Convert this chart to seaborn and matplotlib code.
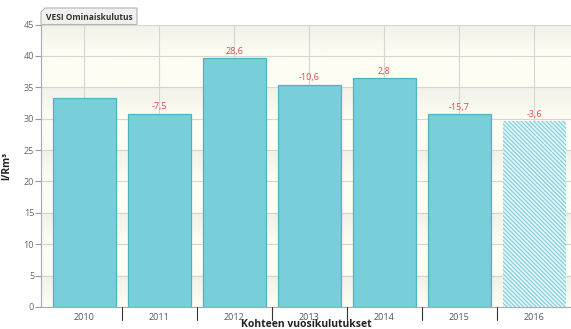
import numpy as np
import pandas as pd
import matplotlib
matplotlib.use("Agg")
import matplotlib.pyplot as plt
from matplotlib.patches import Polygon
from matplotlib.colors import LinearSegmentedColormap
import seaborn as sns

years = ["2010", "2011", "2012", "2013", "2014", "2015", "2016"]
consumption = [33.3, 30.8, 39.6, 35.4, 36.4, 30.7, 29.6]
forecast_year = "2016"
y_ticks = [0, 5, 10, 15, 20, 25, 30, 35, 40, 45]

df = pd.DataFrame({"year": years, "value": consumption})

sns.set_theme(style="white")
plt.rcParams["font.family"] = ["Open Sans", "DejaVu Sans"]
plt.rcParams["hatch.linewidth"] = 0.9

fig = plt.figure(figsize=(5.71, 3.29), dpi=100)
ax = fig.add_axes([41 / 571, 1 - 307 / 329, 531 / 571, (307 - 24.5) / 329])

bar_color = "#78ced9"
edge_color = "#4fb4c0"
sns.barplot(data=df, x="year", y="value", ax=ax, color=bar_color,
            saturation=1, width=0.84, edgecolor=edge_color, linewidth=0.9,
            zorder=3)

xlim = (-0.5 - 5.7 / 75, 6.5 + 0.5 / 75)

# banded background: every other band shades toward its top gridline
steps = 40
rows = []
for k in range(9):
    if k % 2 == 0:
        rows.append(np.linspace(0, 1, steps))
    else:
        rows.append(np.zeros(steps))
grad = np.concatenate(rows).reshape(-1, 1)
cmap = LinearSegmentedColormap.from_list("bg", ["#fdfdf3", "#f1f1e9"])
ax.imshow(grad, aspect="auto", cmap=cmap, extent=(*xlim, 0, 45),
          origin="lower", zorder=0, interpolation="bilinear")
ax.set_xlim(*xlim)
ax.set_ylim(0, 45)

# hatched forecast bar
for patch, yr in zip(ax.patches, years):
    if yr == forecast_year:
        patch.set_facecolor("#e6f6f8")
        patch.set_edgecolor("#86d1db")
        patch.set_hatch("\\\\\\\\\\\\\\\\")
        patch.set_linewidth(0)

# year-over-year change labels
for i in range(1, len(years)):
    change = (consumption[i] / consumption[i - 1] - 1) * 100
    txt = f"{change:.1f}".replace(".", ",")
    ax.text(i, consumption[i] + 0.4, txt, ha="center", va="bottom",
            fontsize=6.5, color="#e0474c", zorder=5)

# grid
for yv in y_ticks:
    ax.axhline(yv, color="#d6d6d0", linewidth=0.8, zorder=1)
for i in range(len(years)):
    ax.axvline(i, color="#d6d6d0", linewidth=0.8, zorder=1)

ax.set_yticks(y_ticks)
ax.set_yticklabels([str(v) for v in y_ticks], fontsize=6.5, color="#666666")
ax.set_xticks(range(len(years)))
ax.set_xticklabels(years, fontsize=6.5, color="#555555")
ax.tick_params(axis="y", length=4, width=0.8, color="#999999", pad=1, left=True)
ax.tick_params(axis="x", length=0, pad=4)

# separators between categories
for i in range(len(years) - 1):
    ax.plot([i + 0.5, i + 0.5], [0, -0.045], transform=ax.get_xaxis_transform(),
            color="#333333", linewidth=0.8, clip_on=False, zorder=6)

for s in ["top", "right"]:
    ax.spines[s].set_visible(False)
ax.spines["left"].set_color("#aaaaaa")
ax.spines["left"].set_linewidth(0.8)
ax.spines["bottom"].set_color("#aaaaaa")
ax.spines["bottom"].set_linewidth(0.8)

ax.set_xlabel("Kohteen vuosikulutukset", fontsize=7.5, fontweight="bold",
              color="#222222", labelpad=-1.5)
ax.set_ylabel("l/Rm³", fontsize=7.5, fontweight="bold", color="#222222",
              labelpad=8)

# title tab above the plot area
x0, x1, y0, y1 = 41, 137, 24.5, 8
pts = [(x0, y0), (x0, y1 + 4), (x0 + 4, y1), (x1, y1), (x1, y0)]
pts = [(px / 571, 1 - py / 329) for px, py in pts]
tab = Polygon(pts, closed=True, transform=fig.transFigure, facecolor="#f0f0ee",
              edgecolor="#b5b5b5", linewidth=0.8, zorder=10)
fig.patches.append(tab)
fig.text(46 / 571, 1 - 17 / 329, "VESI Ominaiskulutus", fontsize=6,
         fontweight="bold", color="#333333", va="center", ha="left", zorder=11)

fig.savefig("out.png", dpi=100, facecolor="white")
